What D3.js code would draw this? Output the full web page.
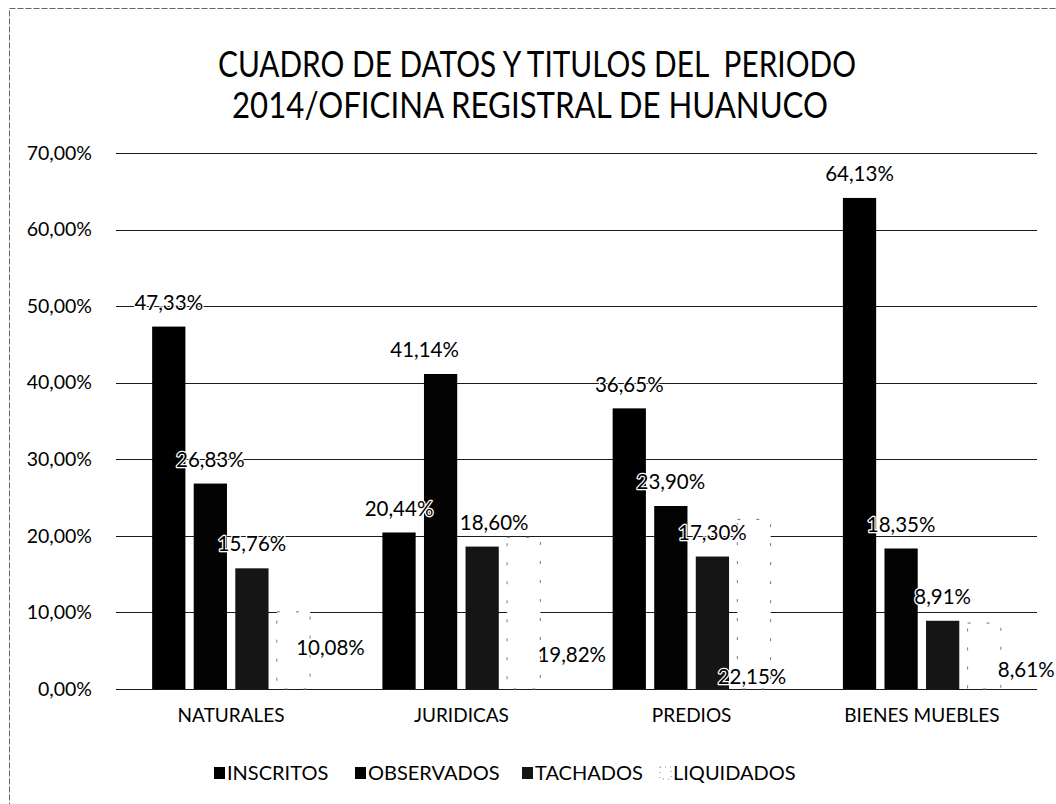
<!DOCTYPE html>
<html>
<head>
<meta charset="utf-8">
<script src="https://cdn.jsdelivr.net/npm/d3@7"></script>
<style>
  body { margin: 0; background: #fff; }
  text { font-family: Lato, "Noto Sans", sans-serif; fill: #000; }
</style>
</head>
<body>
<div id="chart"></div>
<script>
var width = 1056;
var height = 804;

// data
var categories = ['NATURALES', 'JURIDICAS', 'PREDIOS', 'BIENES MUEBLES'];
var seriesNames = ['INSCRITOS', 'OBSERVADOS', 'TACHADOS', 'LIQUIDADOS'];
var inscritos = [47.33, 20.44, 36.65, 64.13];
var observados = [26.83, 41.14, 23.90, 18.35];
var tachados = [15.76, 18.60, 17.30, 8.91];
var liquidados = [10.08, 19.82, 22.15, 8.61];
var yTicks = [0, 10, 20, 30, 40, 50, 60, 70];

var seriesValues = [inscritos, observados, tachados, liquidados];
var fills = ['#000', '#030303', '#151515', '#fff'];

// label tweaks (the scanned chart has hand-moved labels)
var labelDx = { 'JURIDICAS|OBSERVADOS': -16, 'JURIDICAS|TACHADOS': 12 };
var liqLabelDx = [37, 48, -2, 42];
var liqLabelLift = [41, 34, 12, 19];

var margin = { left: 116, right: 19, top: 153, bottom: 115 };

var svg = d3.select('#chart').append('svg')
      .attr('width', width)
      .attr('height', height);

// dashed frame
svg.append('rect')
      .attr('x', 9.5).attr('y', 8.5)
      .attr('width', width + 20).attr('height', height + 20)
      .attr('fill', 'none')
      .attr('stroke', '#666')
      .attr('stroke-dasharray', '6,2');

// title
var title = svg.append('text')
      .attr('text-anchor', 'middle')
      .style('font-size', '36px')
      .style('white-space', 'pre');
title.append('tspan').attr('x', 537).attr('y', 77)
      .attr('textLength', 638).attr('lengthAdjust', 'spacingAndGlyphs')
      .text('CUADRO DE DATOS Y TITULOS DEL  PERIODO');
title.append('tspan').attr('x', 530).attr('y', 118)
      .attr('textLength', 596).attr('lengthAdjust', 'spacingAndGlyphs')
      .text('2014/OFICINA REGISTRAL DE HUANUCO');

var x0 = d3.scaleBand()
      .domain(categories)
      .range([margin.left, width - margin.right])
      .paddingInner(0.314)
      .paddingOuter(0.157);

var x1 = d3.scaleBand()
      .domain(seriesNames)
      .range([0, x0.bandwidth()])
      .paddingInner(0.2);

var yScale = d3.scaleLinear()
      .domain([0, 70])
      .range([height - margin.bottom, margin.top]);

// grid lines
svg.append('g')
      .selectAll('line')
      .data(yTicks)
      .enter()
      .append('line')
            .attr('x1', margin.left)
            .attr('x2', width - margin.right)
            .attr('y1', d => Math.round(yScale(d)) + 0.5)
            .attr('y2', d => Math.round(yScale(d)) + 0.5)
            .attr('stroke', '#1a1a1a')
            .attr('stroke-width', 1.2);

// y axis labels
var fmt = d => d.toFixed(2).replace('.', ',') + '%';
var yAxis = d3.axisLeft(yScale)
      .tickValues(yTicks)
      .tickSize(0)
      .tickPadding(24)
      .tickFormat(fmt);
var yAxisGroup = svg.append('g')
      .attr('transform', 'translate(' + margin.left + ',0)')
      .call(yAxis);
yAxisGroup.select('.domain').remove();
yAxisGroup.selectAll('text')
      .style('font-family', 'Lato, "Noto Sans", sans-serif')
      .style('font-size', '19.5px')
      .attr('fill', '#000');

// category labels
var xAxis = d3.axisBottom(x0).tickSize(0).tickPadding(20);
var xAxisGroup = svg.append('g')
      .attr('transform', 'translate(0,' + (height - margin.bottom) + ')')
      .call(xAxis);
xAxisGroup.select('.domain').remove();
xAxisGroup.selectAll('text')
      .style('font-family', 'Lato, "Noto Sans", sans-serif')
      .style('font-size', '19px')
      .attr('fill', '#000');

// bars
var rows = [];
categories.forEach(function(c, i) {
      seriesNames.forEach(function(s, j) {
            rows.push({ cat: c, ci: i, series: s, si: j, value: seriesValues[j][i] });
      });
});

var plot = svg.append('g');
plot.selectAll('rect')
      .data(rows)
      .enter()
      .append('rect')
            .attr('x', d => x0(d.cat) + x1(d.series))
            .attr('y', d => yScale(d.value))
            .attr('width', x1.bandwidth())
            .attr('height', d => yScale(0) - yScale(d.value))
            .attr('fill', d => fills[d.si])
            .attr('stroke', d => d.si == 3 ? '#777' : 'none')
            .attr('stroke-dasharray', d => d.si == 3 ? '3,16' : null);

// value labels, with a thin white halo so they read over the bars
plot.selectAll('.lbl')
      .data(rows)
      .enter()
      .append('text')
            .attr('class', 'lbl')
            .attr('x', function(d) {
                  var cx = x0(d.cat) + x1(d.series) + x1.bandwidth() / 2;
                  if (d.si == 3) return cx + liqLabelDx[d.ci];
                  return cx + (labelDx[d.cat + '|' + d.series] || 0);
            })
            .attr('y', function(d) {
                  if (d.si == 3) return yScale(0) - liqLabelLift[d.ci];
                  return yScale(d.value) - 24;
            })
            .attr('dy', '0.35em')
            .attr('text-anchor', 'middle')
            .style('font-size', '20.5px')
            .style('stroke', '#fff')
            .style('stroke-width', '2.5px')
            .style('paint-order', 'stroke')
            .style('stroke-linejoin', 'round')
            .text(d => fmt(d.value));

// legend
var legendX = [214, 355, 522, 660];
var legend = svg.append('g');
seriesNames.forEach(function(s, j) {
      var g = legend.append('g').attr('transform', 'translate(' + legendX[j] + ',773)');
      g.append('rect')
            .attr('x', 0).attr('y', -6)
            .attr('width', 11).attr('height', 12)
            .attr('fill', fills[j])
            .attr('stroke', j == 3 ? '#888' : 'none')
            .attr('stroke-dasharray', j == 3 ? '1,4' : null);
      g.append('text')
            .attr('x', 13)
            .attr('dy', '0.35em')
            .style('font-size', '20px')
            .text(s);
});
</script>
</body>
</html>
